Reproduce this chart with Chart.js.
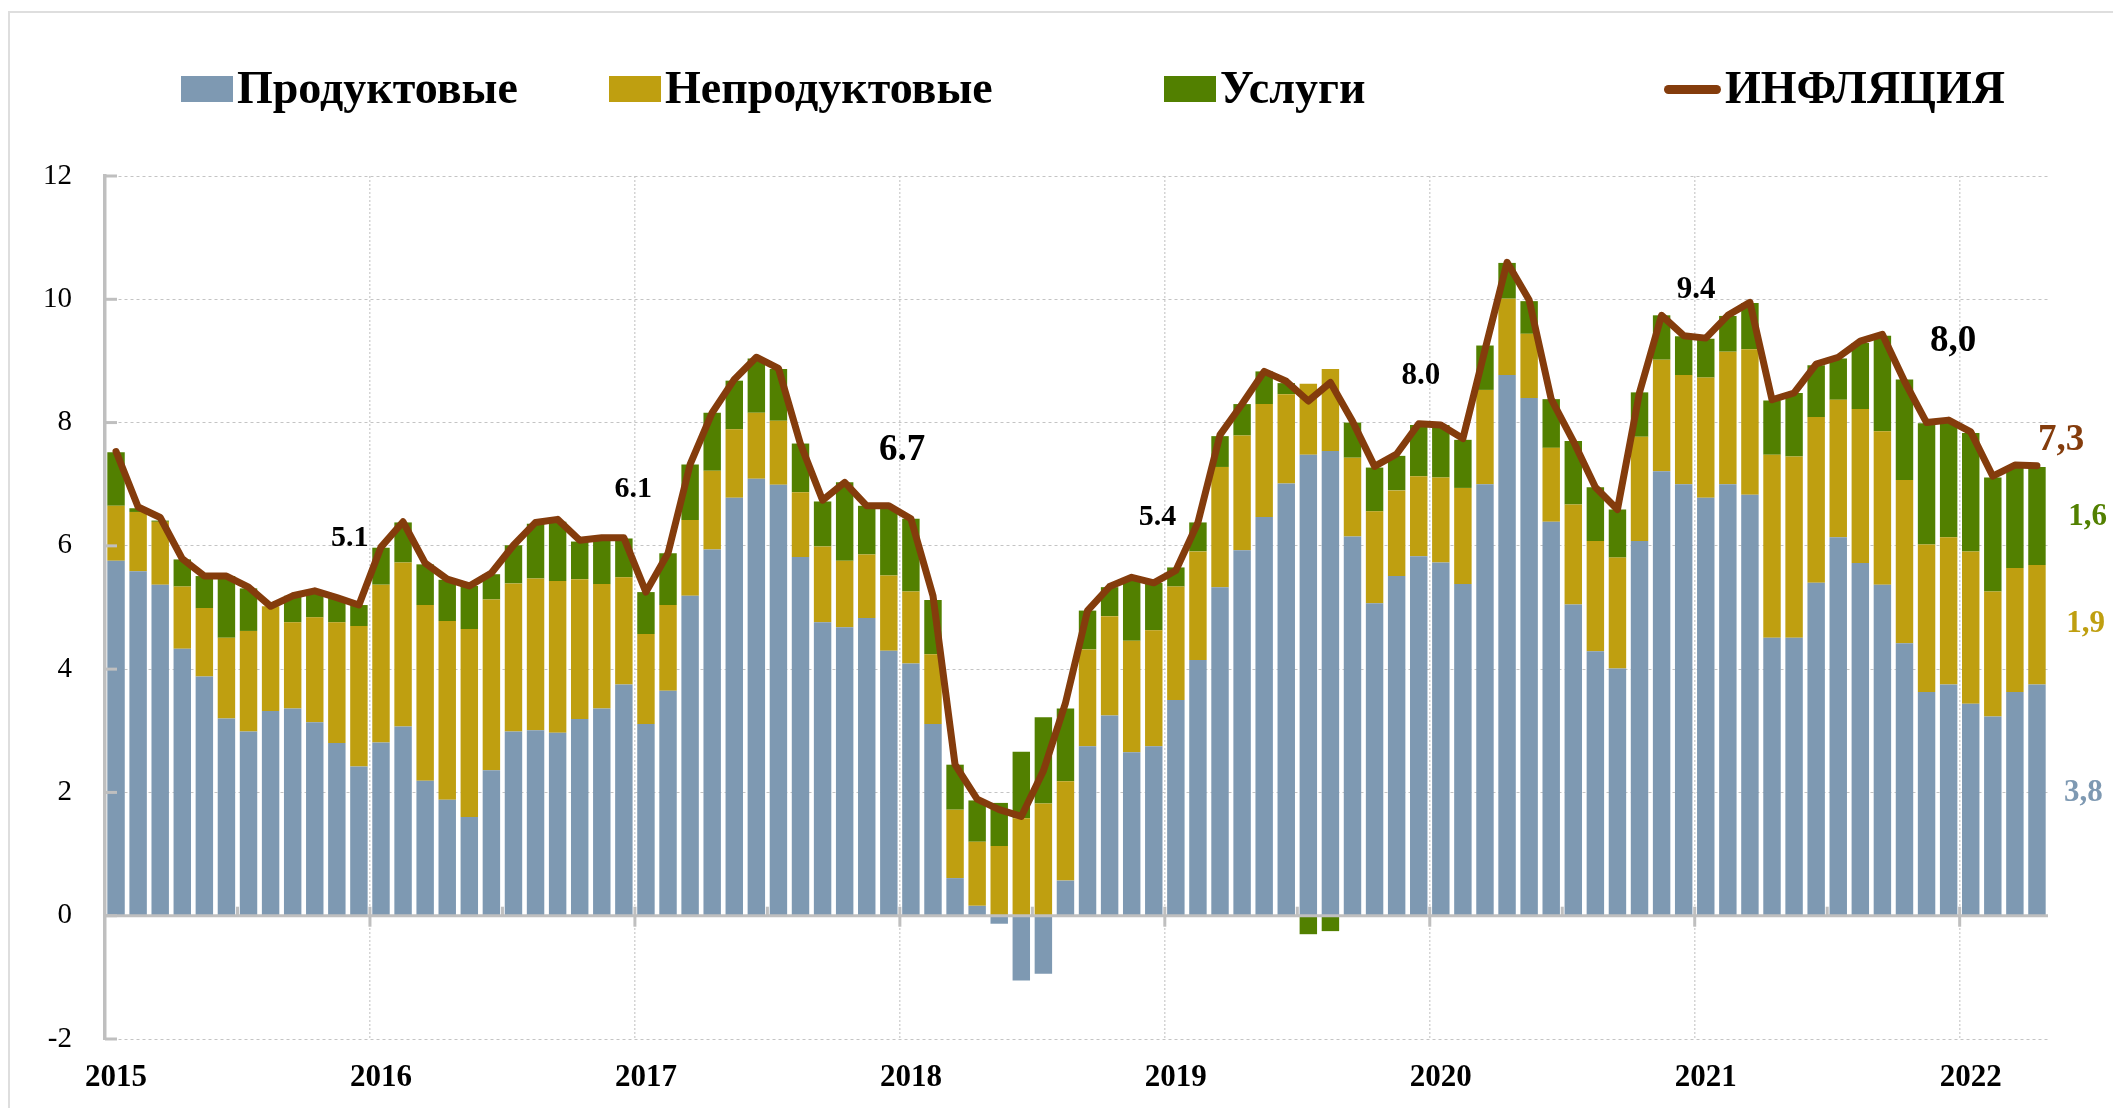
<!DOCTYPE html>
<html>
<head>
<meta charset="utf-8">
<script src="https://cdn.jsdelivr.net/npm/chart.js@4.4.0/dist/chart.umd.min.js"></script>
<style>
  body { margin: 0; background: #fff; }
  #wrap { position: relative; width: 2113px; height: 1108px; overflow: hidden; }
  #frame { position: absolute; left: 8px; top: 11px; width: 2200px; height: 1200px;
           border-left: 2px solid #dedede; border-top: 2px solid #dedede; }
  .item { position: absolute; top: 64px; height: 46px; display: flex; align-items: center;
          font: bold 46px "Liberation Serif", serif; color: #000; white-space: nowrap; }
  .box { display: inline-block; width: 52px; height: 26px; margin-right: 4px; position: relative; top: 2px; }
  .ln { display: inline-block; width: 57px; height: 9px; border-radius: 5px; margin-right: 4px; position: relative; top: 2px; }
  canvas { position: absolute; left: 0; top: 0; }
</style>
</head>
<body>
<div id="wrap">
  <div id="frame"></div>
  <canvas id="chart" width="2113" height="1108"></canvas>
  <div id="legend"></div>
</div>
<script>
// Monthly data, Jan 2015 - Apr 2022 (contributions to inflation, p.p.)
const years = ['2015', '2016', '2017', '2018', '2019', '2020', '2021', '2022'];

const food = [
    5.76, 5.59, 5.37, 4.33, 3.88, 3.20, 2.99, 3.32, 3.36, 3.14, 2.80, 2.42,
    2.81, 3.07, 2.19, 1.88, 1.60, 2.36, 2.99, 3.01, 2.97, 3.19, 3.36, 3.75,
    3.11, 3.65, 5.19, 5.94, 6.78, 7.09, 6.99, 5.82, 4.76, 4.68, 4.83, 4.30,
    4.09, 3.11, 0.61, 0.16, -0.13, -1.05, -0.94, 0.57, 2.75, 3.25, 2.65, 2.75,
    3.50, 4.15, 5.33, 5.93, 6.47, 7.01, 7.48, 7.54, 6.15, 5.07, 5.51, 5.83,
    5.73, 5.38, 7.00, 8.77, 8.40, 6.39, 5.05, 4.29, 4.01, 6.08, 7.21, 7.00,
    6.78, 7.00, 6.83, 4.51, 4.51, 5.40, 6.14, 5.72, 5.37, 4.42, 3.63, 3.75,
    3.44, 3.23, 3.63, 3.75
];
const nonFood = [
    0.89, 0.96, 1.02, 1.01, 1.11, 1.31, 1.63, 1.70, 1.40, 1.70, 1.96, 2.28,
    2.56, 2.66, 2.85, 2.90, 3.05, 2.77, 2.40, 2.46, 2.46, 2.27, 2.02, 1.74,
    1.46, 1.39, 1.23, 1.28, 1.11, 1.07, 1.04, 1.05, 1.23, 1.08, 1.03, 1.22,
    1.17, 1.13, 1.11, 1.04, 1.13, 1.58, 1.82, 1.61, 1.57, 1.61, 1.81, 1.88,
    1.84, 1.76, 1.95, 1.86, 1.83, 1.45, 1.15, 1.33, 1.28, 1.49, 1.39, 1.30,
    1.38, 1.56, 1.53, 1.24, 1.04, 1.20, 1.62, 1.79, 1.80, 1.69, 1.81, 1.77,
    1.95, 2.15, 2.36, 2.97, 2.94, 2.69, 2.23, 2.50, 2.49, 2.65, 2.39, 2.39,
    2.47, 2.03, 2.01, 1.94
];
const services = [
    0.87, 0.06, 0.02, 0.44, 0.52, 1.00, 0.69, 0.00, 0.43, 0.43, 0.40, 0.34,
    0.60, 0.65, 0.66, 0.67, 0.70, 0.41, 0.62, 0.89, 0.96, 0.61, 0.74, 0.63,
    0.68, 0.84, 0.90, 0.94, 0.79, 0.88, 0.84, 0.79, 0.73, 1.27, 0.79, 1.10,
    1.18, 0.88, 0.73, 0.67, 0.70, 1.08, 1.40, 1.18, 0.63, 0.47, 1.00, 0.77,
    0.31, 0.47, 0.50, 0.51, 0.53, 0.18, -0.30, -0.25, 0.57, 0.71, 0.56, 0.83,
    0.85, 0.78, 0.72, 0.58, 0.53, 0.79, 1.03, 0.87, 0.78, 0.72, 0.72, 0.63,
    0.63, 0.58, 0.75, 0.88, 1.03, 0.84, 0.67, 1.07, 1.55, 1.63, 1.97, 1.88,
    1.92, 1.85, 1.64, 1.59
];
const inflation = [
    7.53, 6.63, 6.46, 5.79, 5.51, 5.51, 5.33, 5.02, 5.19, 5.27, 5.16, 5.04,
    5.98, 6.39, 5.72, 5.46, 5.35, 5.56, 6.01, 6.38, 6.43, 6.09, 6.13, 6.13,
    5.25, 5.88, 7.32, 8.16, 8.70, 9.06, 8.88, 7.65, 6.74, 7.03, 6.65, 6.65,
    6.44, 5.19, 2.45, 1.89, 1.72, 1.61, 2.35, 3.45, 4.95, 5.34, 5.49, 5.40,
    5.60, 6.38, 7.80, 8.30, 8.83, 8.67, 8.35, 8.65, 8.02, 7.29, 7.49, 7.98,
    7.96, 7.74, 9.18, 10.60, 9.99, 8.38, 7.70, 6.95, 6.59, 8.49, 9.74, 9.41,
    9.37, 9.74, 9.95, 8.37, 8.48, 8.95, 9.06, 9.32, 9.43, 8.67, 8.00, 8.04,
    7.85, 7.13, 7.31, 7.30
];

// month categories built from the year list
const months = [];
years.forEach(y => {
    for (let m = 1; m <= 12; m++) months.push(y + '-' + String(m).padStart(2, '0'));
});
months.length = food.length;

const BLUE = '#7e99b2';
const GOLD = '#bf9f10';
const GREEN = '#528000';
const BROWN = '#843c0c';
const AXIS_GRAY = '#bfbfbf';

// text notes on the chart: [text, category index, value, size, color]
const notes = [
    ['5.1', 10.58, 6.13, 30, '#000'],
    ['6.1', 23.43, 6.92, 30, '#000'],
    ['6.7', 35.6, 7.55, 37, '#000'],
    ['5.4', 47.17, 6.46, 30, '#000'],
    ['8.0', 59.1, 8.75, 31, '#000'],
    ['9.4', 71.56, 10.15, 31, '#000'],
    ['8,0', 83.2, 9.32, 37, '#000'],
    ['7,3', 88.1, 7.71, 37, BROWN],
    ['1,6', 89.3, 6.47, 31, GREEN],
    ['1,9', 89.2, 4.73, 31, GOLD],
    ['3,8', 89.1, 1.99, 31, BLUE]
];

const extras = {
    id: 'extras',
    afterDatasetsDraw(chart) {
        const { ctx, chartArea, scales: { x, y } } = chart;
        const y0 = y.getPixelForValue(0);
        ctx.save();
        ctx.strokeStyle = AXIS_GRAY;
        ctx.lineWidth = 3;
        // zero line
        ctx.beginPath();
        ctx.moveTo(chartArea.left, y0);
        ctx.lineTo(chartArea.right, y0);
        ctx.stroke();
        // inside tick marks on the value axis
        for (let v = -2; v <= 12; v += 2) {
            const py = y.getPixelForValue(v);
            ctx.beginPath();
            ctx.moveTo(chartArea.left, py);
            ctx.lineTo(chartArea.left + 12, py);
            ctx.stroke();
        }
        // tick marks on the zero line, every half year
        const step = x.getPixelForValue(1) - x.getPixelForValue(0);
        for (let i = 6; i < months.length; i += 6) {
            const px = x.getPixelForValue(i) - step / 2;
            ctx.beginPath();
            ctx.moveTo(px, y0 - 9);
            ctx.lineTo(px, i % 12 === 0 ? y0 + 11 : y0);
            ctx.stroke();
        }
        // value notes
        ctx.textAlign = 'center';
        ctx.textBaseline = 'middle';
        notes.forEach(([txt, xi, v, size, color]) => {
            ctx.font = 'bold ' + size + 'px "Liberation Serif", serif';
            ctx.fillStyle = color;
            ctx.fillText(txt, x.getPixelForValue(xi), y.getPixelForValue(v));
        });
        ctx.restore();
    }
};

const ctx = document.getElementById('chart').getContext('2d');
const chart = new Chart(ctx, {
    data: {
        labels: months,
        datasets: [
            {
                type: 'line',
                label: 'ИНФЛЯЦИЯ',
                data: inflation,
                borderColor: BROWN,
                backgroundColor: BROWN,
                borderWidth: 7,
                pointRadius: 0,
                tension: 0,
                borderJoinStyle: 'round',
                borderCapStyle: 'round',
                stack: 'line',
                order: 0
            },
            { type: 'bar', label: 'Продуктовые', data: food, backgroundColor: BLUE, stack: 'cpi', order: 1 },
            { type: 'bar', label: 'Непродуктовые', data: nonFood, backgroundColor: GOLD, stack: 'cpi', order: 1 },
            { type: 'bar', label: 'Услуги', data: services, backgroundColor: GREEN, stack: 'cpi', order: 1 }
        ]
    },
    options: {
        responsive: false,
        animation: false,
        devicePixelRatio: 1,
        layout: { padding: { top: 176, right: 65, left: 0, bottom: 0 } },
        datasets: { bar: { barPercentage: 0.79, categoryPercentage: 1.0 } },
        plugins: {
            legend: { display: false },
            tooltip: { enabled: false }
        },
        scales: {
            x: {
                stacked: true,
                offset: true,
                grid: {
                    offset: true,
                    drawTicks: false,
                    lineWidth: 1.5,
                    color: c => (c.index > 0 && c.index % 12 === 0) ? '#d4d4d4' : 'rgba(0,0,0,0)'
                },
                border: { display: false, dash: [2, 2] },
                ticks: {
                    autoSkip: false,
                    maxRotation: 0,
                    padding: 20,
                    color: '#000',
                    font: { family: 'Liberation Serif', size: 31, weight: 'bold' },
                    callback: (v, i) => i % 12 === 0 ? months[i].slice(0, 4) : ''
                },
                afterFit: s => { s.height = 69; }
            },
            y: {
                stacked: true,
                min: -2,
                max: 12,
                grid: {
                    drawTicks: false,
                    lineWidth: 1,
                    color: c => (c.tick && c.tick.value === 0) ? 'rgba(0,0,0,0)' : '#c4c4c4'
                },
                border: { display: true, color: AXIS_GRAY, width: 3.5, dash: [3, 3] },
                ticks: {
                    stepSize: 2,
                    padding: 33,
                    color: '#000',
                    font: { family: 'Liberation Serif', size: 29 }
                },
                afterFit: s => { s.width = 105; }
            }
        }
    },
    plugins: [extras]
});

// legend, laid out like the original
const legendLeft = [181, 609, 1164, 1664];
const legendOrder = [1, 2, 3, 0];
const legendEl = document.getElementById('legend');
legendOrder.forEach((di, k) => {
    const ds = chart.data.datasets[di];
    const item = document.createElement('div');
    item.className = 'item';
    item.style.left = legendLeft[k] + 'px';
    const mark = document.createElement('span');
    mark.className = ds.type === 'line' ? 'ln' : 'box';
    mark.style.background = ds.type === 'line' ? ds.borderColor : ds.backgroundColor;
    const txt = document.createElement('span');
    txt.textContent = ds.label;
    item.appendChild(mark);
    item.appendChild(txt);
    legendEl.appendChild(item);
});
</script>
</body>
</html>
